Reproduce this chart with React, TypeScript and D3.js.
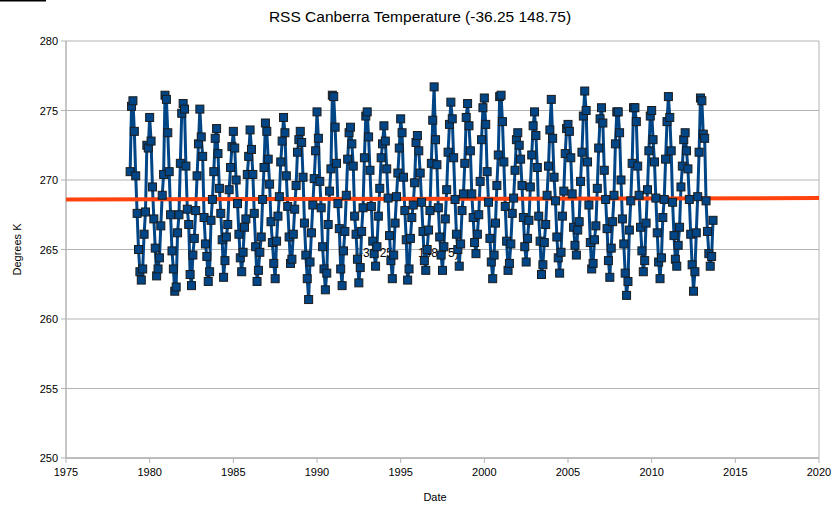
import React from 'react';
import * as d3 from 'd3';

// monthly RSS lower-troposphere temps for the Canberra grid cell, Nov 1978 .. Sep 2013
const startYear = 1978 + 10 / 12;
const temps = [
  270.6, 275.3,
  275.7, 273.5, 270.3, 267.6, 265.0, 263.4, 262.8, 263.6, 266.1, 267.7, 272.5, 272.3,
  274.5, 272.8, 269.5, 267.2, 265.1, 263.1, 263.6, 264.4, 266.7, 268.9, 270.4, 276.1,
  275.8, 273.4, 270.6, 267.5, 264.9, 263.6, 262.0, 262.3, 266.2, 267.5, 271.2, 274.8,
  275.5, 275.1, 271.0, 267.9, 266.8, 263.2, 262.4, 264.6, 265.8, 267.8, 270.3, 272.6,
  275.1, 273.1, 271.7, 267.3, 265.4, 264.5, 262.7, 263.4, 267.1, 268.6, 270.6, 273.0,
  273.7, 271.9, 269.4, 267.6, 265.7, 263.0, 264.2, 265.9, 266.8, 269.3, 270.9, 272.4,
  273.5, 272.3, 270.0, 268.3, 266.1, 264.4, 263.4, 264.8, 266.6, 267.2, 270.4, 271.7,
  273.6, 272.2, 270.4, 267.6, 265.2, 262.7, 263.5, 264.8, 265.9, 268.6, 270.9, 274.1,
  273.5, 271.5, 269.7, 267.0, 265.5, 264.0, 262.9, 265.6, 267.4, 268.8, 271.3, 272.8,
  274.5, 273.4, 270.3, 268.1, 265.9, 264.0, 264.3, 266.1, 267.9, 269.6, 272.0, 272.9,
  273.5, 272.7, 270.2, 266.9, 264.6, 262.9, 261.4, 264.1, 266.2, 268.2, 270.1, 272.1,
  274.9, 273.0, 269.9, 268.0, 265.2, 263.6, 262.1, 263.3, 266.8, 269.2, 270.8, 276.1,
  276.0, 273.8, 271.2, 268.3, 266.5, 263.6, 262.4, 264.9, 266.3, 268.9, 271.5, 273.4,
  273.8, 272.6, 271.0, 267.4, 266.1, 264.3, 262.6, 263.7, 266.3, 268.0, 271.6, 274.6,
  274.9, 273.1, 270.7, 268.1, 265.6, 264.7, 263.8, 265.2, 267.4, 269.4, 271.6, 272.6,
  273.9, 272.8, 270.8, 268.7, 266.0, 264.2, 262.9, 264.6, 266.9, 268.8, 270.5, 272.3,
  274.4, 273.4, 270.2, 267.8, 265.7, 262.8, 263.6, 265.8, 267.3, 268.2, 269.8, 272.7,
  273.2, 272.1, 270.5, 268.4, 266.3, 264.2, 263.5, 265.0, 266.4, 267.8, 271.2, 274.3,
  276.7, 272.9, 271.1, 268.0, 265.9, 264.6, 263.5, 265.2, 267.2, 269.3, 272.0, 274.0,
  275.6, 274.4, 271.6, 268.6, 266.1, 265.0, 263.8, 265.4, 267.8, 269.0, 271.2, 274.5,
  275.5, 273.9, 272.1, 269.0, 267.3, 265.5, 264.7, 266.1, 267.5, 269.9, 272.9, 275.2,
  275.9, 274.0, 270.6, 268.4, 265.8, 264.1, 262.9, 264.6, 266.9, 269.6, 271.8, 276.0,
  276.1, 274.2, 271.3, 268.1, 265.6, 263.5, 264.0, 265.4, 267.6, 268.7, 270.7, 272.9,
  273.4, 272.5, 271.5, 269.6, 267.3, 265.2, 264.1, 265.8, 267.1, 269.5, 271.8, 273.9,
  274.9, 273.2, 270.9, 267.4, 265.6, 263.2, 263.9, 265.5, 266.8, 268.9, 271.0, 273.6,
  275.8, 273.0, 270.2, 268.5, 265.9, 264.4, 263.3, 264.8, 267.4, 269.2, 271.9, 273.7,
  274.0, 273.5, 271.6, 269.0, 266.6, 265.3, 264.6, 266.4, 267.0, 269.9, 272.0, 274.6,
  276.4, 275.0, 271.3, 268.2, 265.5, 263.6, 264.0, 265.7, 266.7, 269.4, 272.3, 274.4,
  275.2, 274.1, 270.7, 268.6, 266.5, 264.2, 263.0, 265.1, 267.0, 268.9, 272.6, 274.9,
  274.9, 273.4, 270.0, 267.2, 265.4, 263.3, 261.7, 262.7, 266.4, 268.5, 271.2, 275.2,
  275.2, 274.2, 271.0, 268.9, 266.6, 264.9, 263.4, 264.2, 266.9, 269.3, 272.1, 274.6,
  275.0, 272.9, 271.3, 268.7, 266.2, 264.1, 262.9, 264.4, 267.3, 268.6, 271.5, 274.2,
  276.0, 274.5, 272.1, 268.4, 266.0, 264.3, 263.8, 265.3, 266.6, 269.5, 271.0, 272.9,
  273.4, 272.1, 270.8, 268.6, 266.1, 263.9, 262.0, 263.4, 266.2, 268.8, 272.0, 275.9,
  275.7, 273.3, 273.0, 268.5, 266.3, 264.7, 263.8, 264.5, 267.1,
];
const trendYears = [1975, 2020];
const trendTemps = [268.6, 268.7];
const yTicks = [250, 255, 260, 265, 270, 275, 280];
const xTicks = [1975, 1980, 1985, 1990, 1995, 2000, 2005, 2010, 2015, 2020];

const W = 839;
const H = 510;
const left = 66, right = 819, top = 41, bottom = 458;
const font = '"Liberation Sans", Arial, sans-serif';

export default function App() {
  const x = d3.scaleLinear().domain([1975, 2020]).range([left, right]);
  const y = d3.scaleLinear().domain([250, 280]).range([bottom, top]);

  const pts = temps.map((t, i) => ({ date: startYear + i / 12, t }));
  const line = d3.line<{ date: number; t: number }>()
    .x(d => x(d.date))
    .y(d => y(d.t));
  const trend = d3.line<number>()
    .x((d, i) => x(trendYears[i]))
    .y(d => y(d));

  const ms = 8;

  return (
    <svg width={W} height={H} style={{ display: 'block', background: '#fff' }}>
      <style>{`body{margin:0}`}</style>
      <rect x={0} y={0} width={46} height={1.5} fill="#000" />

      <text x={420} y={22} textAnchor="middle" fontFamily={font} fontSize={15.5} fill="#000">
        RSS Canberra Temperature (-36.25 148.75)
      </text>

      {/* grid */}
      {yTicks.map(v => (
        <line key={v} x1={left} x2={right} y1={y(v)} y2={y(v)} stroke="#b3b3b3" strokeWidth={1} />
      ))}
      <line x1={left} x2={left} y1={top} y2={bottom} stroke="#b3b3b3" strokeWidth={1.5} />
      <line x1={right} x2={right} y1={top} y2={bottom} stroke="#b3b3b3" strokeWidth={1} />
      <line x1={left} x2={right} y1={bottom} y2={bottom} stroke="#b3b3b3" strokeWidth={1.5} />

      {yTicks.map(v => (
        <g key={v}>
          <line x1={left - 5} x2={left} y1={y(v)} y2={y(v)} stroke="#b3b3b3" strokeWidth={1} />
          <text x={left - 8} y={y(v) + 4} textAnchor="end" fontFamily={font} fontSize={11} fill="#000">{v}</text>
        </g>
      ))}
      {xTicks.map(v => (
        <g key={v}>
          <line x1={x(v)} x2={x(v)} y1={bottom} y2={bottom + 5} stroke="#b3b3b3" strokeWidth={1} />
          <text x={x(v)} y={bottom + 18} textAnchor="middle" fontFamily={font} fontSize={11} fill="#000">{v}</text>
        </g>
      ))}

      <text x={435} y={501} textAnchor="middle" fontFamily={font} fontSize={11} fill="#000">Date</text>
      <text transform={`translate(21,${(top + bottom) / 2}) rotate(-90)`} textAnchor="middle"
        fontFamily={font} fontSize={11} fill="#000">Degrees K</text>

      <text x={355} y={257} fontFamily={font} fontSize={12} fill="#000">(-36.25</text>
      <text x={418} y={257} fontFamily={font} fontSize={12} fill="#000">148.75)</text>

      <path d={line(pts) ?? ''} fill="none" stroke="#004586" strokeWidth={3} strokeLinejoin="round" />
      <path d={trend(trendTemps) ?? ''} fill="none" stroke="#ff420e" strokeWidth={4} />
      {pts.map((p, i) => (
        <rect key={i} x={x(p.date) - ms / 2} y={y(p.t) - ms / 2} width={ms} height={ms}
          fill="#004586" stroke="#1b1b1b" strokeWidth={1} />
      ))}
    </svg>
  );
}
